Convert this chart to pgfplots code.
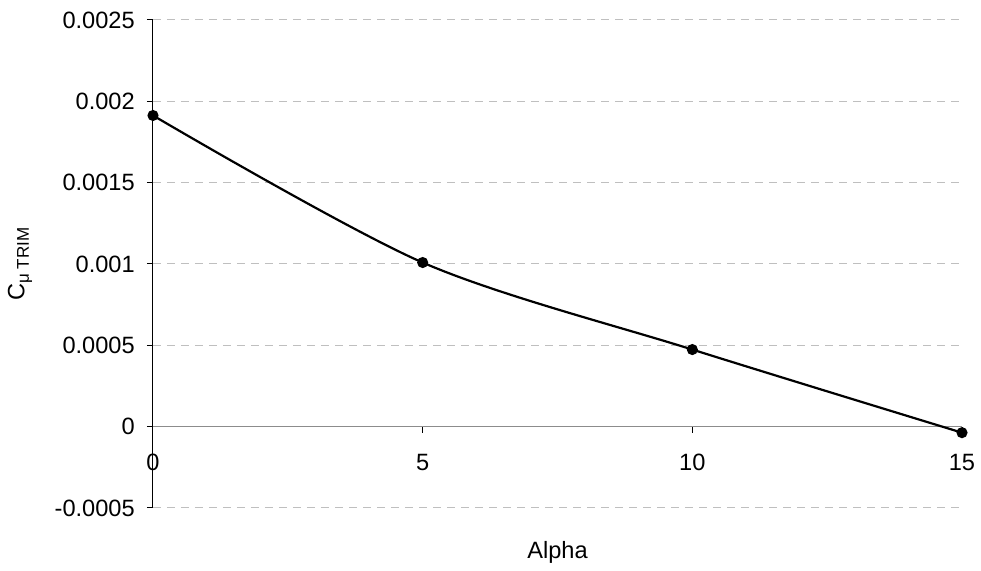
\documentclass[border=0pt]{standalone}
\usepackage{fontspec}
\setmainfont{Liberation Sans}
\usepackage{pgfplots}
\pgfplotsset{compat=1.18}
\begin{document}
\fontsize{11.8}{14}\selectfont
\begin{tikzpicture}
\begin{axis}[
  scale only axis,
  width=404.5pt, height=244pt,
  xmin=0, xmax=15, ymin=-0.0005, ymax=0.0025,
  axis x line=middle, axis y line=left,
  x axis line style={-, draw=gray!90, line width=0.8pt},
  y axis line style={-, draw=black, line width=0.5pt},
  hide obscured x ticks=false,
  hide obscured y ticks=false,
  scaled y ticks=false,
  xtick={0,5,10,15},
  xticklabels={0,5,10,15},
  ytick={-0.0005,0,0.0005,0.001,0.0015,0.002,0.0025},
  yticklabels={-0.0005,0,0.0005,0.001,0.0015,0.002,0.0025},
  tick align=outside,
  major tick length=3pt,
  tick style={black, line width=0.5pt},
  xticklabel style={anchor=north, yshift=-6.5pt},
  yticklabel style={anchor=east, xshift=-2pt},
  ymajorgrids,
  grid style={draw=gray!50, dash pattern=on 4pt off 3pt, line width=0.5pt},
  xlabel={Alpha},
  xlabel style={at={(axis description cs:0.5,0)}, anchor=center, yshift=-22pt},
  clip=false,
]
\addplot[black, line width=1.1pt, smooth, tension=0.5, mark=*, mark size=2.2pt, mark options={solid, fill=black}]
  coordinates {(0,0.001913) (5,0.001009) (10,0.000474) (15,-0.000037)};
\coordinate (ll) at (rel axis cs:0,0);
\coordinate (ur) at (rel axis cs:1,1);
\node[rotate=90, anchor=center] at ([xshift=-66.5pt]rel axis cs:0,0.5) {C\raisebox{-0.35ex}{\fontsize{8.5}{10}\selectfont μ TRIM}};
\end{axis}
\pgfresetboundingbox
\path ([shift={(-76.5pt,-31.5pt)}]ll) rectangle ([shift={(9.5pt,10pt)}]ur);
\end{tikzpicture}
\end{document}
